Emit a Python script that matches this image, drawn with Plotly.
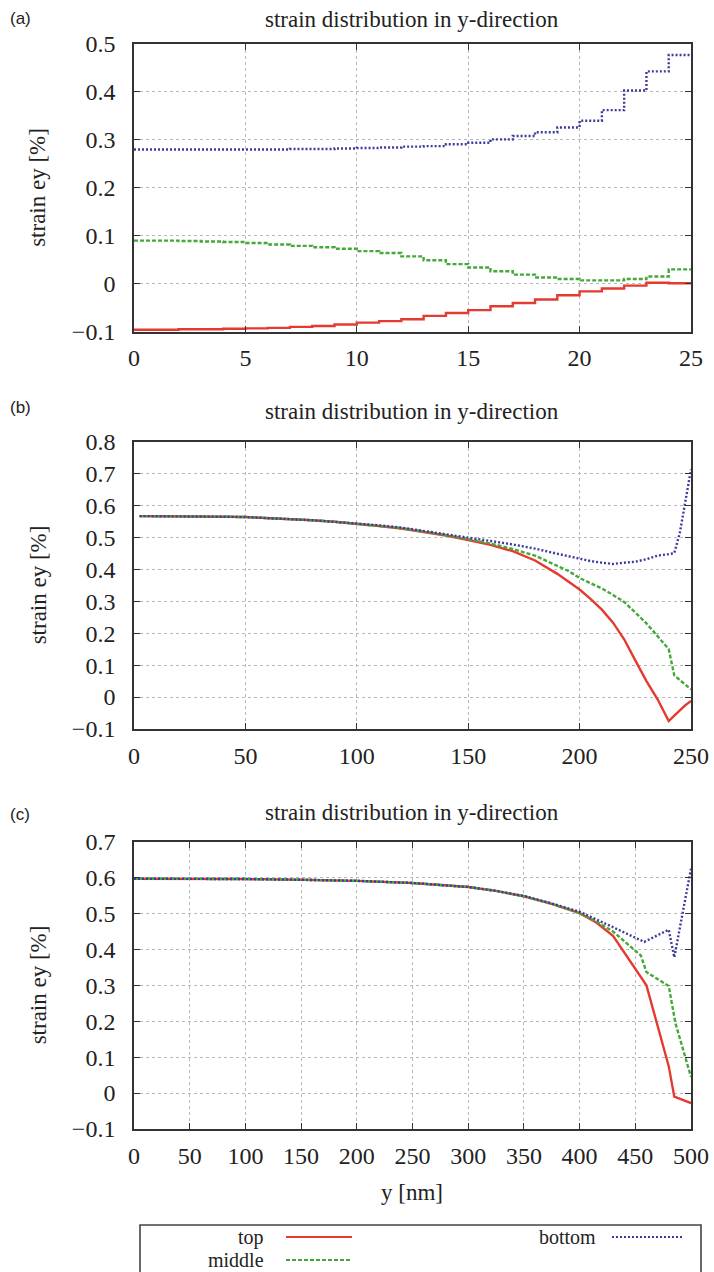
import plotly.graph_objects as go

# ---------------- data ----------------
# panel (a): step data, value on interval [x, x+1]
a_x = list(range(0, 25))
a_top = [-0.096, -0.096, -0.095, -0.095, -0.094, -0.093, -0.092, -0.090, -0.088, -0.085,
         -0.081, -0.078, -0.074, -0.067, -0.061, -0.055, -0.047, -0.040, -0.033, -0.024,
         -0.016, -0.010, -0.004, 0.002, 0.001]
a_middle = [0.090, 0.090, 0.089, 0.088, 0.087, 0.085, 0.082, 0.079, 0.076, 0.073,
            0.068, 0.064, 0.057, 0.049, 0.041, 0.034, 0.026, 0.019, 0.013, 0.010,
            0.007, 0.007, 0.010, 0.015, 0.030]
a_bottom = [0.280, 0.280, 0.280, 0.280, 0.280, 0.280, 0.280, 0.281, 0.281, 0.282,
            0.283, 0.284, 0.286, 0.287, 0.291, 0.294, 0.301, 0.308, 0.316, 0.326,
            0.340, 0.362, 0.403, 0.443, 0.477]
a_end = 25

# panel (b)
b_x = [2.5, 10, 20, 30, 40, 50, 60, 70, 80, 90, 100, 110, 120, 130, 140, 150, 160, 170,
       180, 190, 195, 200, 205, 210, 215, 220, 225, 230, 235, 240, 242.5, 245, 247.5, 250]
b_top = [0.567, 0.567, 0.566, 0.566, 0.565, 0.564, 0.561, 0.558, 0.554, 0.549, 0.543,
         0.536, 0.528, 0.518, 0.506, 0.492, 0.477, 0.457, 0.428, 0.386, 0.362,
         0.337, 0.307, 0.274, 0.233, 0.181, 0.115, 0.050, -0.007, -0.075, -0.058,
         -0.040, -0.025, -0.012]
b_middle = [0.567, 0.567, 0.566, 0.566, 0.565, 0.564, 0.561, 0.558, 0.554, 0.549, 0.543,
            0.537, 0.529, 0.519, 0.508, 0.495, 0.481, 0.464, 0.443, 0.412, 0.395,
            0.373, 0.356, 0.340, 0.320, 0.298, 0.265, 0.231, 0.191, 0.150, 0.068,
            0.054, 0.038, 0.024]
b_bottom = [0.567, 0.567, 0.566, 0.566, 0.565, 0.564, 0.561, 0.558, 0.554, 0.549, 0.544,
            0.538, 0.531, 0.521, 0.510, 0.500, 0.489, 0.478, 0.465, 0.449, 0.441,
            0.432, 0.426, 0.421, 0.417, 0.421, 0.424, 0.432, 0.443, 0.448, 0.451,
            0.515, 0.610, 0.713]

# panel (c)
c_x_top = [0, 50, 100, 150, 200, 250, 300, 325, 350, 375, 400, 415, 430, 460, 480, 485, 500]
c_top = [0.597, 0.597, 0.596, 0.594, 0.591, 0.585, 0.574, 0.563, 0.548, 0.527, 0.501,
         0.475, 0.438, 0.300, 0.075, -0.010, -0.028]
c_x_middle = [0, 50, 100, 150, 200, 250, 300, 325, 350, 375, 400, 415, 430, 455, 460, 480, 486, 500]
c_middle = [0.597, 0.597, 0.596, 0.594, 0.591, 0.585, 0.574, 0.563, 0.548, 0.527, 0.501,
            0.478, 0.450, 0.383, 0.337, 0.298, 0.195, 0.045]
c_x_bottom = [0, 50, 100, 150, 200, 250, 300, 325, 350, 375, 400, 430, 458, 480, 485, 500]
c_bottom = [0.597, 0.597, 0.596, 0.594, 0.591, 0.585, 0.574, 0.563, 0.549, 0.528, 0.505,
            0.462, 0.421, 0.455, 0.378, 0.625]

panel_labels = ["(a)", "(b)", "(c)"]
panel_title = "strain distribution in y-direction"
y_title = "strain ey [%]"
x_title = "y [nm]"
series_names = ["top", "middle", "bottom"]

# ---------------- styling ----------------
W, H = 714, 1272
SERIF = "Liberation Serif"
SANS = "Liberation Sans"
TXT = "#222222"
colors = {"top": "#e53a30", "middle": "#45a83a", "bottom": "#3c3c9c"}
dashes = {"top": "solid", "middle": "4px,2px", "bottom": "2px,2px"}
LW = 2.4

# plot areas in pixels (left, right, top, bottom)
PX_L, PX_R = 134, 691
panels_px = [(44, 331.7), (441.7, 729), (841.7, 1129)]
title_px = [19, 411, 812]
label_px = [18, 408, 814]

def px_x(p):
    return p / W

def px_y(p):
    return 1 - p / H

fig = go.Figure()

def add_series(xs, ys, name, idx, shape="linear"):
    sfx = "" if idx == 1 else str(idx)
    fig.add_trace(go.Scatter(
        x=xs, y=ys, mode="lines", name=name, showlegend=False,
        line=dict(color=colors[name], width=LW, dash=dashes[name], shape=shape),
        xaxis="x" + sfx, yaxis="y" + sfx,
    ))

# panel (a) step lines
for name, vals in zip(series_names, [a_top, a_middle, a_bottom]):
    add_series(a_x + [a_end], vals + [vals[-1]], name, 1, shape="hv")
# panel (b)
for name, vals in zip(series_names, [b_top, b_middle, b_bottom]):
    add_series(b_x, vals, name, 2)
# panel (c)
for name, xs, vals in zip(series_names, [c_x_top, c_x_middle, c_x_bottom],
                          [c_top, c_middle, c_bottom]):
    add_series(xs, vals, name, 3)

xranges = [(0, 25, 5), (0, 250, 50), (0, 500, 50)]
yranges = [(-0.1, 0.5), (-0.1, 0.8), (-0.1, 0.7)]

layout = dict(
    width=W, height=H,
    margin=dict(l=0, r=0, t=0, b=0),
    paper_bgcolor="white", plot_bgcolor="white",
    showlegend=False,
)

common = dict(
    showgrid=True, gridcolor="#b8b8b8", griddash="dot", gridwidth=1,
    showline=True, linecolor="#333333", linewidth=1.6, mirror="ticks",
    ticks="inside", ticklen=6, tickcolor="#333333", tickwidth=1.2,
    zeroline=False, automargin=False,
    tickfont=dict(family=SERIF, size=24, color=TXT),
)

annotations = []
for i, ((top, bot), (x0, x1, dx), (y0, y1)) in enumerate(zip(panels_px, xranges, yranges)):
    sfx = "" if i == 0 else str(i + 1)
    layout["xaxis" + sfx] = dict(
        common, domain=[px_x(PX_L), px_x(PX_R)], range=[x0, x1], dtick=dx, tick0=0,
        anchor="y" + sfx, ticklabelstandoff=4,
    )
    layout["yaxis" + sfx] = dict(
        common, domain=[px_y(bot), px_y(top)], range=[y0, y1], dtick=0.1, tick0=0,
        anchor="x" + sfx, ticklabelstandoff=12, tickformat=".1~f",
    )
    # panel title
    annotations.append(dict(
        text=panel_title, x=px_x((PX_L + PX_R) / 2), y=px_y(title_px[i]),
        xref="paper", yref="paper", showarrow=False, xanchor="center", yanchor="middle",
        font=dict(family=SERIF, size=23, color=TXT),
    ))
    # panel label
    annotations.append(dict(
        text=panel_labels[i], x=px_x(8), y=px_y(label_px[i]),
        xref="paper", yref="paper", showarrow=False, xanchor="left", yanchor="middle",
        font=dict(family=SANS, size=17, color=TXT),
    ))
    # y-axis title
    annotations.append(dict(
        text=y_title, x=px_x(38), y=px_y((top + bot) / 2), textangle=-90,
        xref="paper", yref="paper", showarrow=False, xanchor="center", yanchor="middle",
        font=dict(family=SERIF, size=23, color=TXT),
    ))

# x-axis title
annotations.append(dict(
    text=x_title, x=px_x((PX_L + PX_R) / 2), y=px_y(1192),
    xref="paper", yref="paper", showarrow=False, xanchor="center", yanchor="middle",
    font=dict(family=SERIF, size=23, color=TXT),
))

# custom legend (gnuplot style: label then sample)
shapes = [dict(type="rect", xref="paper", yref="paper",
               x0=px_x(140), x1=px_x(701), y0=px_y(1290), y1=px_y(1225),
               line=dict(color="#444444", width=1.6), fillcolor="rgba(0,0,0,0)")]
legend_items = [("top", 266, 286, 352, 1237), ("middle", 266, 286, 352, 1260),
                ("bottom", 598, 612, 684, 1237)]
for name, tx, sx0, sx1, yy in legend_items:
    annotations.append(dict(
        text=name, x=px_x(tx), y=px_y(yy), xref="paper", yref="paper", showarrow=False,
        xanchor="right", yanchor="middle",
        font=dict(family=SERIF, size=20, color=TXT),
    ))
    shapes.append(dict(type="line", xref="paper", yref="paper",
                       x0=px_x(sx0), x1=px_x(sx1), y0=px_y(yy), y1=px_y(yy),
                       line=dict(color=colors[name], width=2.2, dash=dashes[name])))

layout["annotations"] = annotations
layout["shapes"] = shapes
fig.update_layout(**layout)

fig.write_html(
    "out.html",
    config={"displayModeBar": False},
    post_script="document.body.style.margin='0';document.body.style.overflow='hidden';",
)
